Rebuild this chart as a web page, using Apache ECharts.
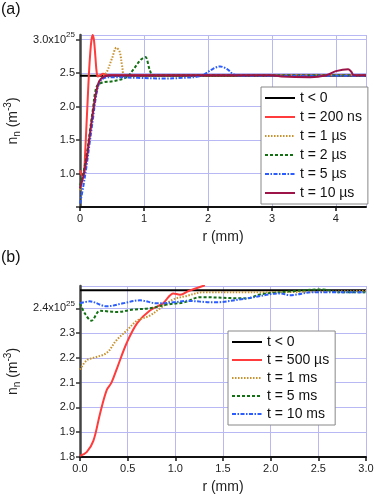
<!DOCTYPE html>
<html>
<head>
<meta charset="utf-8">
<script src="https://cdn.jsdelivr.net/npm/echarts@6/dist/echarts.min.js"></script>
<style>
  html, body { margin: 0; padding: 0; background: #fff; }
  #chart { width: 374px; height: 495px; }
</style>
</head>
<body>
<div id="chart"></div>
<script>
// panel (a): r (mm) vs n_n (1e25 m^-3)
const namesA = ['t < 0', 't = 200 ns', 't = 1 µs', 't = 2 µs', 't = 5 µs', 't = 10 µs'];
const a_t0 = [[0, 2.46], [4.47, 2.46]];
const a_200ns = [[0, 1.05], [0.03, 0.98], [0.06, 1.0], [0.08, 1.3], [0.1, 1.7], [0.12, 2.1], [0.14, 2.5],
  [0.16, 2.8], [0.18, 3.0], [0.2, 3.07], [0.22, 2.98], [0.24, 2.75], [0.26, 2.52], [0.28, 2.45],
  [0.32, 2.47], [0.36, 2.49], [0.42, 2.47], [4.47, 2.47]];
const a_1us = [[0, 0.75], [0.05, 0.95], [0.1, 1.2], [0.15, 1.55], [0.2, 1.9], [0.25, 2.2], [0.3, 2.35],
  [0.36, 2.44], [0.42, 2.52], [0.5, 2.72], [0.57, 2.88], [0.62, 2.82], [0.66, 2.6], [0.7, 2.47], [4.47, 2.47]];
const a_2us = [[0, 0.82], [0.05, 1.0], [0.1, 1.25], [0.15, 1.6], [0.2, 1.95], [0.26, 2.3], [0.35, 2.36],
  [0.52, 2.38], [0.73, 2.44], [0.83, 2.55], [0.95, 2.7], [1.02, 2.74], [1.09, 2.55], [1.14, 2.47], [4.47, 2.47]];
const a_5us = [[0, 0.55], [0.05, 0.8], [0.1, 1.1], [0.15, 1.45], [0.2, 1.8], [0.25, 2.15], [0.3, 2.35],
  [0.36, 2.42], [0.5, 2.44], [0.9, 2.43], [1.3, 2.42], [1.6, 2.43], [1.9, 2.46], [2.05, 2.55], [2.19, 2.6],
  [2.3, 2.56], [2.4, 2.48], [2.5, 2.46], [4.47, 2.46]];
const a_10us = [[0, 0.78], [0.05, 0.95], [0.1, 1.2], [0.15, 1.55], [0.2, 1.9], [0.25, 2.2], [0.3, 2.38],
  [0.36, 2.44], [0.45, 2.47], [3.0, 2.47], [3.15, 2.45], [3.6, 2.44], [3.85, 2.47], [4.0, 2.53], [4.19, 2.56],
  [4.24, 2.52], [4.28, 2.47], [4.47, 2.47]];

// panel (b)
const namesB = ['t < 0', 't = 500 µs', 't = 1 ms', 't = 5 ms', 't = 10 ms'];
const b_t0 = [[0, 2.473], [3.0, 2.473]];
const b_500us = [[0, 1.805], [0.07, 1.82], [0.14, 1.865], [0.21, 1.975], [0.28, 2.07], [0.33, 2.1],
  [0.39, 2.16], [0.49, 2.26], [0.6, 2.34], [0.73, 2.39], [0.87, 2.42], [0.98, 2.46], [1.05, 2.455],
  [1.14, 2.47], [1.31, 2.493]];
const b_1ms = [[0, 2.153], [0.07, 2.19], [0.14, 2.2], [0.28, 2.22], [0.38, 2.27], [0.49, 2.31], [0.6, 2.35],
  [0.73, 2.37], [0.84, 2.4], [0.98, 2.436], [1.12, 2.45], [1.29, 2.465], [1.78, 2.465], [3.0, 2.47]];
const b_5ms = [[0, 2.42], [0.05, 2.38], [0.12, 2.35], [0.21, 2.39], [0.39, 2.385], [0.56, 2.395], [0.73, 2.4],
  [0.91, 2.415], [1.09, 2.424], [1.26, 2.445], [1.75, 2.44], [1.89, 2.456], [2.2, 2.468], [2.55, 2.476],
  [2.7, 2.465], [3.0, 2.465]];
const b_10ms = [[0, 2.42], [0.1, 2.428], [0.28, 2.408], [0.45, 2.42], [0.63, 2.432], [0.81, 2.42],
  [0.98, 2.424], [1.12, 2.43], [1.4, 2.424], [1.75, 2.44], [2.1, 2.46], [2.2, 2.453], [2.45, 2.465], [3.0, 2.465]];

const colors = { black: '#000000', red: '#ff3b3b', orange: '#c8922e', green: '#137013', blue: '#2a5cff', maroon: '#9c1448' };
const gridColor = '#b8b8f4';
const font = 'Liberation Sans, Arial, sans-serif';

function line(name, data, color, type, width, xi) {
  return {
    name: name, type: 'line', data: data, xAxisIndex: xi, yAxisIndex: xi,
    symbol: 'none', smooth: 0.35, lineStyle: { color: color, type: type, width: width }, itemStyle: { color: color }
  };
}

function onStep(v, step) {
  return Math.abs(v / step - Math.round(v / step)) < 1e-6;
}

const richLbl = {
  sup: { fontSize: 8, verticalAlign: 'bottom', padding: [0, 0, 9, 0], fontFamily: font, color: '#222' },
  base: { fontSize: 11, fontFamily: font, color: '#222' }
};
const richName = {
  sub: { fontSize: 10, padding: [8, 0, 0, 0], fontFamily: font, color: '#222' },
  sup: { fontSize: 10, padding: [0, 0, 9, 0], fontFamily: font, color: '#222' },
  base: { fontSize: 14, fontFamily: font, color: '#222' }
};

function xAxis(gi, max, interval, fmt, showMax) {
  return {
    gridIndex: gi, type: 'value', min: 0, max: max, interval: interval,
    name: 'r (mm)', nameLocation: 'middle', nameGap: 23,
    nameTextStyle: { fontSize: 14, fontFamily: font, color: '#222' },
    axisLine: { lineStyle: { color: '#111', width: 2 } },
    axisTick: { show: true, length: 4, lineStyle: { color: '#111', width: 1.5 } },
    axisLabel: { fontSize: 11, fontFamily: font, color: '#222', margin: 6, formatter: fmt, showMaxLabel: showMax },
    splitLine: { show: true, lineStyle: { color: gridColor, width: 1 } }
  };
}

function yAxis(gi, min, max, interval, fmt) {
  return {
    gridIndex: gi, type: 'value', min: min, max: max, interval: interval,
    name: '{base|n}{sub|n}{base| (m}{sup|-3}{base|)}', nameLocation: 'middle', nameGap: 53, nameRotate: 90,
    nameTextStyle: { rich: richName },
    axisLine: { lineStyle: { color: '#444', width: 2.5 } },
    axisTick: { show: true, length: 4, lineStyle: { color: '#333', width: 1.5 } },
    axisLabel: { margin: 5, formatter: fmt, rich: richLbl, showMaxLabel: false },
    splitLine: { show: true, lineStyle: { color: gridColor, width: 1 } }
  };
}

const legendBase = {
  orient: 'vertical', itemWidth: 30, itemHeight: 14, padding: [4, 6, 4, 3],
  backgroundColor: '#fff', borderColor: '#888', borderWidth: 1,
  itemStyle: { opacity: 0 },
  textStyle: { fontSize: 14, fontFamily: font, color: '#111' }
};

const chart = echarts.init(document.getElementById('chart'), null, { renderer: 'canvas' });
chart.setOption({
  animation: false,
  backgroundColor: '#fff',
  grid: [
    { left: 80, top: 35, width: 286, height: 172, containLabel: false, outerBoundsMode: 'none' },
    { left: 80, top: 286, width: 286, height: 171, containLabel: false, outerBoundsMode: 'none' }
  ],
  xAxis: [
    xAxis(0, 4.47, 1, function (v) { return onStep(v, 1) ? String(Math.round(v)) : ''; }, false),
    xAxis(1, 3.0, 0.5, function (v) { return v.toFixed(1); }, true)
  ],
  yAxis: [
    yAxis(0, 0.5, 3.07, 0.5, function (v) {
      if (v < 0.75 || !onStep(v, 0.5)) return '';
      if (Math.abs(v - 3) < 1e-6) return '{base|3.0x10}{sup|25}';
      return '{base|' + v.toFixed(1) + '}';
    }),
    yAxis(1, 1.8, 2.49, 0.1, function (v) {
      if (v > 2.45) return '';
      if (Math.abs(v - 2.4) < 1e-6) return '{base|2.4x10}{sup|25}';
      return '{base|' + v.toFixed(1) + '}';
    })
  ],
  legend: [
    Object.assign({}, legendBase, { data: namesA, left: 261, top: 87, itemGap: 5 }),
    Object.assign({}, legendBase, { data: namesB, left: 228, top: 331, itemGap: 4 })
  ],
  graphic: [
    { type: 'text', left: 1, top: 2, style: { text: '(a)', fontSize: 16, fontFamily: font, fill: '#111' } },
    { type: 'text', left: 1, top: 250, style: { text: '(b)', fontSize: 16, fontFamily: font, fill: '#111' } }
  ],
  series: [
    line(namesA[0], a_t0, colors.black, 'solid', 2, 0),
    line(namesA[1], a_200ns, colors.red, 'solid', 2, 0),
    line(namesA[2], a_1us, colors.orange, [1.5, 1.5], 2, 0),
    line(namesA[3], a_2us, colors.green, [3, 2], 2, 0),
    line(namesA[4], a_5us, colors.blue, [4, 1.5, 1.5, 1.5], 2, 0),
    line(namesA[5], a_10us, colors.maroon, 'solid', 2, 0),
    line(namesB[0], b_t0, colors.black, 'solid', 2, 1),
    line(namesB[1], b_500us, colors.red, 'solid', 2, 1),
    line(namesB[2], b_1ms, colors.orange, [1.5, 1.5], 2, 1),
    line(namesB[3], b_5ms, colors.green, [3, 2], 2, 1),
    line(namesB[4], b_10ms, colors.blue, [4, 1.5, 1.5, 1.5], 2, 1)
  ]
});
</script>
</body>
</html>
